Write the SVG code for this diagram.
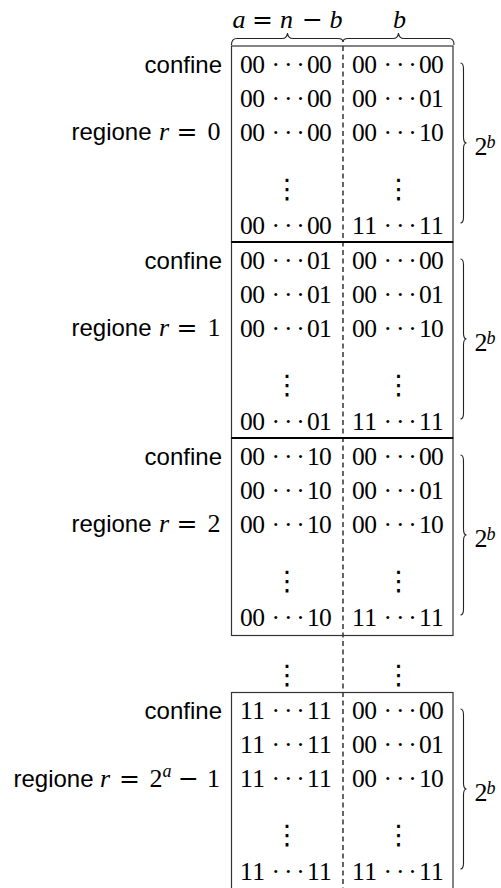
<svg xmlns="http://www.w3.org/2000/svg" width="501" height="888" viewBox="0 0 501 888">
<style>
.d{font-family:"Liberation Serif",serif;font-size:25.5px;fill:#000}
.s{font-family:"Liberation Sans",sans-serif;font-size:24px;fill:#000}
.m{font-family:"Liberation Serif",serif;font-size:26px;fill:#000}
.it{font-style:italic}
.op{font-family:"DejaVu Serif",serif;font-size:25px}
.sup{font-size:18px}
.v{font-family:"DejaVu Sans",sans-serif;font-size:27px;fill:#000;text-anchor:middle}
.box{fill:none;stroke:#333;stroke-width:1.2}
.sep{stroke:#000;stroke-width:2.2}
.br{fill:none;stroke:#222;stroke-width:1.1}
.dash{stroke:#000;stroke-width:1.2;stroke-dasharray:5 3.5}
</style>
<g id="header">
<text class="m" y="28"><tspan class="it" x="232.5">a</tspan><tspan class="op" x="252">=</tspan><tspan class="it" x="280">n</tspan><tspan class="op" x="302">−</tspan><tspan class="it" x="329.5">b</tspan></text>
<text class="m it" x="393" y="28">b</text>
<path class="br" d="M231.5,45 Q231.5,38.5 237,38.5 L282,38.5 Q287,38.5 287.5,33 Q288,38.5 293,38.5 L338,38.5 Q343,38.5 343,42"/>
<path class="br" d="M343,42 Q343,38.5 348,38.5 L393,38.5 Q398,38.5 398.5,33 Q399,38.5 404,38.5 L449,38.5 Q454,38.5 454,45"/>
</g>
<g id="connectors">
<line class="dash" x1="343" y1="46" x2="343" y2="890"/>
</g>
<g id="region0">
<rect class="box" x="231.5" y="46" width="221.5" height="196"/>
<text class="s" x="222" y="73" text-anchor="end">confine</text>
<text class="m" y="140"><tspan class="s" x="71.5">regione</tspan><tspan class="it" x="159">r</tspan><tspan class="op" x="176.5">=</tspan><tspan x="207.5">0</tspan></text>
<text class="d" x="240.1 252.3 271.6 283.9 296.2 306.9 319.1" y="73">00···00</text>
<text class="d" x="352.1 364.3 383.6 395.9 408.2 418.9 431.1" y="73">00···00</text>
<text class="d" x="240.1 252.3 271.6 283.9 296.2 306.9 319.1" y="107">00···00</text>
<text class="d" x="352.1 364.3 383.6 395.9 408.2 418.9 431.1" y="107">00···01</text>
<text class="d" x="240.1 252.3 271.6 283.9 296.2 306.9 319.1" y="141">00···00</text>
<text class="d" x="352.1 364.3 383.6 395.9 408.2 418.9 431.1" y="141">00···10</text>
<text class="v" x="287" y="198">⋮</text>
<text class="v" x="398.5" y="198">⋮</text>
<text class="d" x="240.1 252.3 271.6 283.9 296.2 306.9 319.1" y="234">00···00</text>
<text class="d" x="352.1 364.3 383.6 395.9 408.2 418.9 431.1" y="234">11···11</text>
<path class="br" d="M460.5,63 Q463.5,63 463.5,69 L463.5,137 Q463.5,143 466.5,143 Q463.5,143 463.5,149 L463.5,217 Q463.5,223 460.5,223"/>
<text class="m" y="155"><tspan x="474.5">2</tspan><tspan class="it sup" x="486.5" y="148">b</tspan></text>
</g>
<g id="region1">
<rect class="box" x="231.5" y="242" width="221.5" height="196"/>
<text class="s" x="222" y="269" text-anchor="end">confine</text>
<text class="m" y="336"><tspan class="s" x="71.5">regione</tspan><tspan class="it" x="159">r</tspan><tspan class="op" x="176.5">=</tspan><tspan x="207.5">1</tspan></text>
<text class="d" x="240.1 252.3 271.6 283.9 296.2 306.9 319.1" y="269">00···01</text>
<text class="d" x="352.1 364.3 383.6 395.9 408.2 418.9 431.1" y="269">00···00</text>
<text class="d" x="240.1 252.3 271.6 283.9 296.2 306.9 319.1" y="303">00···01</text>
<text class="d" x="352.1 364.3 383.6 395.9 408.2 418.9 431.1" y="303">00···01</text>
<text class="d" x="240.1 252.3 271.6 283.9 296.2 306.9 319.1" y="337">00···01</text>
<text class="d" x="352.1 364.3 383.6 395.9 408.2 418.9 431.1" y="337">00···10</text>
<text class="v" x="287" y="394">⋮</text>
<text class="v" x="398.5" y="394">⋮</text>
<text class="d" x="240.1 252.3 271.6 283.9 296.2 306.9 319.1" y="430">00···01</text>
<text class="d" x="352.1 364.3 383.6 395.9 408.2 418.9 431.1" y="430">11···11</text>
<path class="br" d="M460.5,259 Q463.5,259 463.5,265 L463.5,333 Q463.5,339 466.5,339 Q463.5,339 463.5,345 L463.5,413 Q463.5,419 460.5,419"/>
<text class="m" y="351"><tspan x="474.5">2</tspan><tspan class="it sup" x="486.5" y="344">b</tspan></text>
</g>
<g id="region2">
<rect class="box" x="231.5" y="438" width="221.5" height="197.5"/>
<text class="s" x="222" y="465" text-anchor="end">confine</text>
<text class="m" y="532"><tspan class="s" x="71.5">regione</tspan><tspan class="it" x="159">r</tspan><tspan class="op" x="176.5">=</tspan><tspan x="207.5">2</tspan></text>
<text class="d" x="240.1 252.3 271.6 283.9 296.2 306.9 319.1" y="465">00···10</text>
<text class="d" x="352.1 364.3 383.6 395.9 408.2 418.9 431.1" y="465">00···00</text>
<text class="d" x="240.1 252.3 271.6 283.9 296.2 306.9 319.1" y="499">00···10</text>
<text class="d" x="352.1 364.3 383.6 395.9 408.2 418.9 431.1" y="499">00···01</text>
<text class="d" x="240.1 252.3 271.6 283.9 296.2 306.9 319.1" y="533">00···10</text>
<text class="d" x="352.1 364.3 383.6 395.9 408.2 418.9 431.1" y="533">00···10</text>
<text class="v" x="287" y="590">⋮</text>
<text class="v" x="398.5" y="590">⋮</text>
<text class="d" x="240.1 252.3 271.6 283.9 296.2 306.9 319.1" y="626">00···10</text>
<text class="d" x="352.1 364.3 383.6 395.9 408.2 418.9 431.1" y="626">11···11</text>
<path class="br" d="M460.5,455 Q463.5,455 463.5,461 L463.5,529 Q463.5,535 466.5,535 Q463.5,535 463.5,541 L463.5,609 Q463.5,615 460.5,615"/>
<text class="m" y="547"><tspan x="474.5">2</tspan><tspan class="it sup" x="486.5" y="540">b</tspan></text>
</g>
<g id="gap">
<text class="v" x="287" y="684">⋮</text>
<text class="v" x="398.5" y="684">⋮</text>
</g>
<g id="region3">
<line class="sep" x1="231.5" y1="242" x2="453" y2="242"/>
<line class="sep" x1="231.5" y1="438" x2="453" y2="438"/>
<rect class="box" x="231.5" y="692.5" width="221.5" height="200"/>
<text class="s" x="222" y="719" text-anchor="end">confine</text>
<text class="m" y="787"><tspan class="s" x="13.5">regione</tspan><tspan class="it" x="100">r</tspan><tspan class="op" x="119">=</tspan><tspan x="149.5">2</tspan><tspan class="it sup" x="162.5" y="777">a</tspan><tspan class="op" x="178" y="787">−</tspan><tspan x="207">1</tspan></text>
<text class="d" x="240.1 252.3 271.6 283.9 296.2 306.9 319.1" y="719">11···11</text>
<text class="d" x="352.1 364.3 383.6 395.9 408.2 418.9 431.1" y="719">00···00</text>
<text class="d" x="240.1 252.3 271.6 283.9 296.2 306.9 319.1" y="753">11···11</text>
<text class="d" x="352.1 364.3 383.6 395.9 408.2 418.9 431.1" y="753">00···01</text>
<text class="d" x="240.1 252.3 271.6 283.9 296.2 306.9 319.1" y="787">11···11</text>
<text class="d" x="352.1 364.3 383.6 395.9 408.2 418.9 431.1" y="787">00···10</text>
<text class="v" x="287" y="844">⋮</text>
<text class="v" x="398.5" y="844">⋮</text>
<text class="d" x="240.1 252.3 271.6 283.9 296.2 306.9 319.1" y="880">11···11</text>
<text class="d" x="352.1 364.3 383.6 395.9 408.2 418.9 431.1" y="880">11···11</text>
<path class="br" d="M460.5,709 Q463.5,709 463.5,715 L463.5,783 Q463.5,789 466.5,789 Q463.5,789 463.5,795 L463.5,863 Q463.5,869 460.5,869"/>
<text class="m" y="801"><tspan x="474.5">2</tspan><tspan class="it sup" x="486.5" y="794">b</tspan></text>
</g>
</svg>
